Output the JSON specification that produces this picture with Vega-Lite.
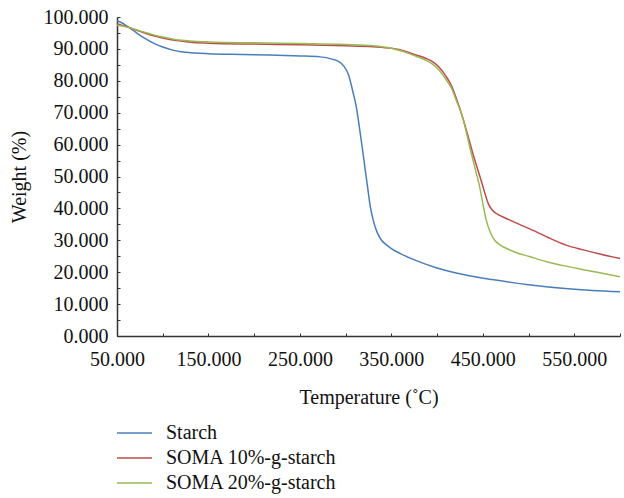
{
  "$schema": "https://vega.github.io/schema/vega-lite/v6.json",
  "autosize": {"type": "none"},
  "width": 503,
  "height": 319,
  "padding": {"left": 117, "top": 17, "right": 4, "bottom": 162},
  "background": "white",
  "config": {
    "view": {"stroke": null},
    "font": "Liberation Serif",
    "axis": {
      "labelFont": "Liberation Serif",
      "titleFont": "Liberation Serif",
      "labelFontSize": 20,
      "titleFontSize": 20,
      "titleFontWeight": "normal",
      "labelColor": "#111",
      "titleColor": "#111",
      "domainColor": "#333",
      "domainWidth": 1.5,
      "tickColor": "#333",
      "tickWidth": 1,
      "tickSize": -3,
      "grid": false
    },
    "legend": {
      "labelFont": "Liberation Serif",
      "labelFontSize": 20,
      "labelColor": "#111",
      "labelLimit": 400
    }
  },
  "data": {
    "values": [
      {"T": 50, "W": 98.8, "s": "Starch"},
      {"T": 55, "W": 98.2, "s": "Starch"},
      {"T": 60, "W": 97.3, "s": "Starch"},
      {"T": 70, "W": 95.3, "s": "Starch"},
      {"T": 80, "W": 93.4, "s": "Starch"},
      {"T": 90, "W": 91.8, "s": "Starch"},
      {"T": 100, "W": 90.6, "s": "Starch"},
      {"T": 110, "W": 89.7, "s": "Starch"},
      {"T": 120, "W": 89.1, "s": "Starch"},
      {"T": 135, "W": 88.7, "s": "Starch"},
      {"T": 150, "W": 88.5, "s": "Starch"},
      {"T": 175, "W": 88.3, "s": "Starch"},
      {"T": 200, "W": 88.2, "s": "Starch"},
      {"T": 225, "W": 88.0, "s": "Starch"},
      {"T": 250, "W": 87.8, "s": "Starch"},
      {"T": 272, "W": 87.5, "s": "Starch"},
      {"T": 285, "W": 86.8, "s": "Starch"},
      {"T": 292, "W": 86.1, "s": "Starch"},
      {"T": 298, "W": 84.6, "s": "Starch"},
      {"T": 303, "W": 82.0, "s": "Starch"},
      {"T": 308, "W": 76.5, "s": "Starch"},
      {"T": 312, "W": 71.3, "s": "Starch"},
      {"T": 315, "W": 65.5, "s": "Starch"},
      {"T": 318, "W": 59.4, "s": "Starch"},
      {"T": 321, "W": 53, "s": "Starch"},
      {"T": 324, "W": 46.7, "s": "Starch"},
      {"T": 327, "W": 40.5, "s": "Starch"},
      {"T": 330, "W": 36.5, "s": "Starch"},
      {"T": 334, "W": 32.8, "s": "Starch"},
      {"T": 339, "W": 30.1, "s": "Starch"},
      {"T": 345, "W": 28.5, "s": "Starch"},
      {"T": 350, "W": 27.4, "s": "Starch"},
      {"T": 360, "W": 25.8, "s": "Starch"},
      {"T": 380, "W": 23.3, "s": "Starch"},
      {"T": 400, "W": 21.3, "s": "Starch"},
      {"T": 430, "W": 19.2, "s": "Starch"},
      {"T": 460, "W": 17.7, "s": "Starch"},
      {"T": 500, "W": 16.1, "s": "Starch"},
      {"T": 540, "W": 14.9, "s": "Starch"},
      {"T": 570, "W": 14.3, "s": "Starch"},
      {"T": 600, "W": 13.9, "s": "Starch"},

      {"T": 50, "W": 97.9, "s": "SOMA 10%-g-starch"},
      {"T": 60, "W": 97.0, "s": "SOMA 10%-g-starch"},
      {"T": 70, "W": 96.0, "s": "SOMA 10%-g-starch"},
      {"T": 80, "W": 95.0, "s": "SOMA 10%-g-starch"},
      {"T": 90, "W": 94.1, "s": "SOMA 10%-g-starch"},
      {"T": 100, "W": 93.4, "s": "SOMA 10%-g-starch"},
      {"T": 115, "W": 92.6, "s": "SOMA 10%-g-starch"},
      {"T": 130, "W": 92.1, "s": "SOMA 10%-g-starch"},
      {"T": 150, "W": 91.8, "s": "SOMA 10%-g-starch"},
      {"T": 200, "W": 91.5, "s": "SOMA 10%-g-starch"},
      {"T": 250, "W": 91.3, "s": "SOMA 10%-g-starch"},
      {"T": 300, "W": 91.0, "s": "SOMA 10%-g-starch"},
      {"T": 330, "W": 90.7, "s": "SOMA 10%-g-starch"},
      {"T": 350, "W": 90.2, "s": "SOMA 10%-g-starch"},
      {"T": 365, "W": 89.3, "s": "SOMA 10%-g-starch"},
      {"T": 377, "W": 88.1, "s": "SOMA 10%-g-starch"},
      {"T": 388, "W": 87.0, "s": "SOMA 10%-g-starch"},
      {"T": 395, "W": 86.0, "s": "SOMA 10%-g-starch"},
      {"T": 402, "W": 84.3, "s": "SOMA 10%-g-starch"},
      {"T": 410, "W": 81.3, "s": "SOMA 10%-g-starch"},
      {"T": 416, "W": 78.3, "s": "SOMA 10%-g-starch"},
      {"T": 421, "W": 74.5, "s": "SOMA 10%-g-starch"},
      {"T": 429, "W": 67.5, "s": "SOMA 10%-g-starch"},
      {"T": 434, "W": 62.5, "s": "SOMA 10%-g-starch"},
      {"T": 439, "W": 57.3, "s": "SOMA 10%-g-starch"},
      {"T": 444, "W": 52.6, "s": "SOMA 10%-g-starch"},
      {"T": 448, "W": 48.9, "s": "SOMA 10%-g-starch"},
      {"T": 452, "W": 45.0, "s": "SOMA 10%-g-starch"},
      {"T": 456, "W": 41.5, "s": "SOMA 10%-g-starch"},
      {"T": 460, "W": 39.6, "s": "SOMA 10%-g-starch"},
      {"T": 465, "W": 38.4, "s": "SOMA 10%-g-starch"},
      {"T": 472, "W": 37.3, "s": "SOMA 10%-g-starch"},
      {"T": 479, "W": 36.4, "s": "SOMA 10%-g-starch"},
      {"T": 490, "W": 35.0, "s": "SOMA 10%-g-starch"},
      {"T": 508, "W": 32.7, "s": "SOMA 10%-g-starch"},
      {"T": 522, "W": 30.8, "s": "SOMA 10%-g-starch"},
      {"T": 541, "W": 28.5, "s": "SOMA 10%-g-starch"},
      {"T": 560, "W": 27.0, "s": "SOMA 10%-g-starch"},
      {"T": 578, "W": 25.7, "s": "SOMA 10%-g-starch"},
      {"T": 600, "W": 24.3, "s": "SOMA 10%-g-starch"},

      {"T": 50, "W": 97.4, "s": "SOMA 20%-g-starch"},
      {"T": 60, "W": 96.9, "s": "SOMA 20%-g-starch"},
      {"T": 70, "W": 96.1, "s": "SOMA 20%-g-starch"},
      {"T": 80, "W": 95.2, "s": "SOMA 20%-g-starch"},
      {"T": 90, "W": 94.4, "s": "SOMA 20%-g-starch"},
      {"T": 100, "W": 93.7, "s": "SOMA 20%-g-starch"},
      {"T": 115, "W": 92.9, "s": "SOMA 20%-g-starch"},
      {"T": 130, "W": 92.5, "s": "SOMA 20%-g-starch"},
      {"T": 150, "W": 92.2, "s": "SOMA 20%-g-starch"},
      {"T": 200, "W": 91.9, "s": "SOMA 20%-g-starch"},
      {"T": 250, "W": 91.7, "s": "SOMA 20%-g-starch"},
      {"T": 300, "W": 91.4, "s": "SOMA 20%-g-starch"},
      {"T": 330, "W": 91.0, "s": "SOMA 20%-g-starch"},
      {"T": 350, "W": 90.2, "s": "SOMA 20%-g-starch"},
      {"T": 365, "W": 89.0, "s": "SOMA 20%-g-starch"},
      {"T": 377, "W": 87.7, "s": "SOMA 20%-g-starch"},
      {"T": 388, "W": 86.4, "s": "SOMA 20%-g-starch"},
      {"T": 395, "W": 85.2, "s": "SOMA 20%-g-starch"},
      {"T": 402, "W": 83.4, "s": "SOMA 20%-g-starch"},
      {"T": 410, "W": 80.3, "s": "SOMA 20%-g-starch"},
      {"T": 416, "W": 77.5, "s": "SOMA 20%-g-starch"},
      {"T": 421, "W": 73.8, "s": "SOMA 20%-g-starch"},
      {"T": 428.6, "W": 68, "s": "SOMA 20%-g-starch"},
      {"T": 433, "W": 62.6, "s": "SOMA 20%-g-starch"},
      {"T": 437.4, "W": 57.3, "s": "SOMA 20%-g-starch"},
      {"T": 442, "W": 52.0, "s": "SOMA 20%-g-starch"},
      {"T": 446.5, "W": 46.8, "s": "SOMA 20%-g-starch"},
      {"T": 450, "W": 41.5, "s": "SOMA 20%-g-starch"},
      {"T": 453.7, "W": 36.4, "s": "SOMA 20%-g-starch"},
      {"T": 458, "W": 32.6, "s": "SOMA 20%-g-starch"},
      {"T": 462.8, "W": 30.1, "s": "SOMA 20%-g-starch"},
      {"T": 468, "W": 28.7, "s": "SOMA 20%-g-starch"},
      {"T": 475.6, "W": 27.5, "s": "SOMA 20%-g-starch"},
      {"T": 487, "W": 26.1, "s": "SOMA 20%-g-starch"},
      {"T": 501, "W": 24.9, "s": "SOMA 20%-g-starch"},
      {"T": 520, "W": 23.3, "s": "SOMA 20%-g-starch"},
      {"T": 541, "W": 21.9, "s": "SOMA 20%-g-starch"},
      {"T": 560, "W": 20.8, "s": "SOMA 20%-g-starch"},
      {"T": 578, "W": 19.8, "s": "SOMA 20%-g-starch"},
      {"T": 600, "W": 18.6, "s": "SOMA 20%-g-starch"}
    ]
  },
  "mark": {"type": "line", "interpolate": "monotone", "strokeWidth": 1.5},
  "encoding": {
    "x": {
      "field": "T",
      "type": "quantitative",
      "scale": {"domain": [50, 600], "nice": false, "zero": false},
      "axis": {
        "title": "Temperature (˚C)",
        "values": [50, 100, 150, 200, 250, 300, 350, 400, 450, 500, 550, 600],
        "labelExpr": "datum.value % 100 == 50 ? format(datum.value, '.3f') : ''",
        "labelPadding": 16,
        "titlePadding": 18,
        "labelFlush": false,
        "labelOverlap": false
      }
    },
    "y": {
      "field": "W",
      "type": "quantitative",
      "scale": {"domain": [0, 100], "nice": false},
      "axis": {
        "title": "Weight (%)",
        "values": [0, 5, 10, 15, 20, 25, 30, 35, 40, 45, 50, 55, 60, 65, 70, 75, 80, 85, 90, 95, 100],
        "labelExpr": "datum.value % 10 == 0 ? format(datum.value, '.3f') : ''",
        "labelPadding": 12,
        "titlePadding": 14,
        "labelFlush": false,
        "labelOverlap": false
      }
    },
    "color": {
      "field": "s",
      "type": "nominal",
      "sort": ["Starch", "SOMA 10%-g-starch", "SOMA 20%-g-starch"],
      "scale": {
        "domain": ["Starch", "SOMA 10%-g-starch", "SOMA 20%-g-starch"],
        "range": ["#4a7ebb", "#be4b48", "#98b954"]
      },
      "legend": {
        "title": null,
        "orient": "none",
        "legendX": 7.5,
        "legendY": 406,
        "padding": 0,
        "symbolType": "M-3.5,0H3.5",
        "symbolSize": 100,
        "symbolStrokeWidth": 1.5,
        "labelOffset": 21.5,
        "rowPadding": 5
      }
    }
  }
}
